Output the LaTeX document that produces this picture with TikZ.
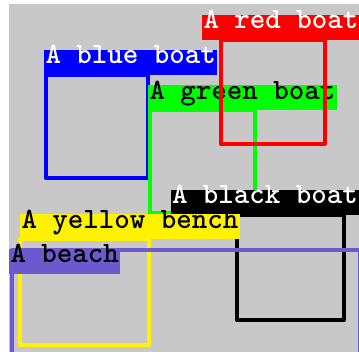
\documentclass[tikz,border=0pt]{standalone}
\definecolor{scenegray}{RGB}{200,200,200}
\definecolor{beachblue}{RGB}{106,90,205}
\tikzset{
  boatbox/.style={draw, line width=4pt, line join=round, inner sep=0pt, outer sep=0pt, anchor=north west},
  tag/.style={inner xsep=1.5pt, inner ysep=0pt, outer sep=0pt, anchor=south west, text height=14pt, text depth=11pt,
    font=\fontsize{29.5}{29.5}\selectfont\ttfamily\bfseries},
}
\begin{document}
\begin{tikzpicture}[x=1pt, y=-1pt]
\useasboundingbox (0,0) rectangle (359,352);
\clip (0,0) rectangle (359,352);

%Draw Scene
\fill[scenegray] (9,4) rectangle (359,352);

%Draw Blue Boat
\node[boatbox, draw=blue, minimum width=102, minimum height=103] (blueboat) at (45.5,75) {};
\node[tag, fill=blue, text=white] (bluetag) at (44,75) {A blue boat};

%Draw Green Boat
\node[boatbox, draw=green, minimum width=105, minimum height=103.5] (greenboat) at (150,110) {};
\node[tag, fill=green, text=black] (greentag) at (148,110.5) {A green boat};

%Draw Red Boat
\node[boatbox, draw=red, minimum width=104, minimum height=104] (redboat) at (220.5,40) {};
\node[tag, fill=red, text=white] (redtag) at (202,40) {A red boat};

%Draw Black Boat
\node[boatbox, draw=black, minimum width=106.5, minimum height=105.5] (blackboat) at (237,215) {};
\node[tag, fill=black, text=white] (blacktag) at (170.5,215) {A black boat};

%Draw Yellow Bench
\node[boatbox, draw=yellow, minimum width=129, minimum height=105.5] (yellowbench) at (20,239.5) {};
\node[tag, fill=yellow, text=black] (yellowtag) at (20,239.5) {A yellow bench};

%Draw Beach
\node[boatbox, draw=beachblue, minimum width=348, minimum height=140] (beach) at (11.5,250.5) {};
\node[tag, fill=beachblue, text=black] (beachtag) at (9,274) {A beach};

\end{tikzpicture}
\end{document}
